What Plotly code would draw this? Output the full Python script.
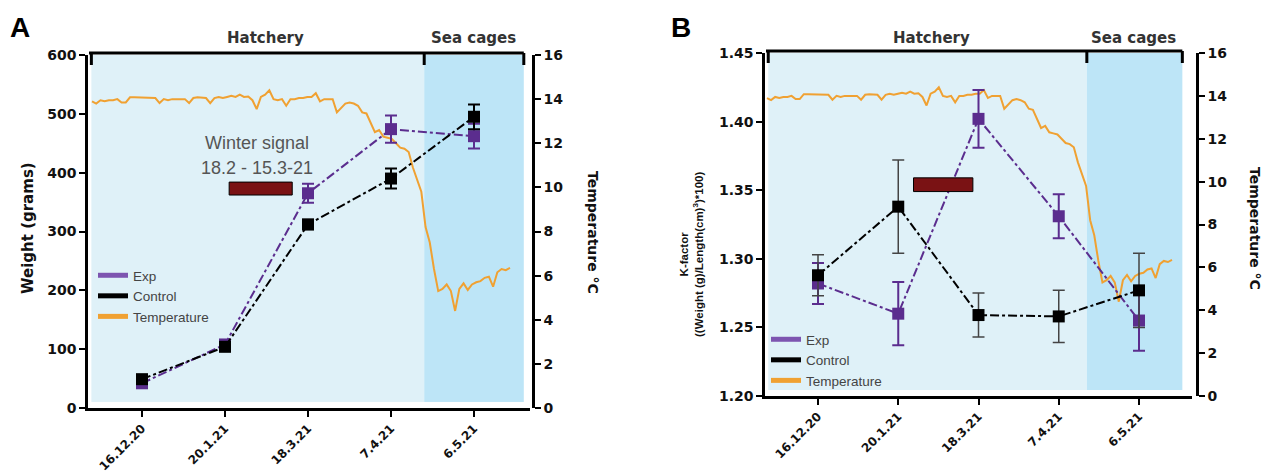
import plotly.graph_objects as go

# ---------------- data ----------------
dates = ["16.12.20", "20.1.21", "18.3.21", "7.4.21", "6.5.21"]

weight_exp = [42, 108, 365, 474, 462]
weight_exp_err = [6, 6, 16, 23, 21]
weight_ctrl = [49, 104, 312, 390, 495]
weight_ctrl_err = [5, 5, 8, 17, 21]

k_exp = [1.282, 1.260, 1.402, 1.331, 1.255]
k_exp_err = [0.015, 0.023, 0.021, 0.016, 0.022]
k_ctrl = [1.288, 1.338, 1.259, 1.258, 1.277]
k_ctrl_err = [0.015, 0.034, 0.016, 0.019, 0.027]

temperature = [
    13.90, 13.80, 13.95, 13.90, 13.95, 13.95, 14.00, 13.85, 13.85, 14.08,
    14.08, 14.08, 14.08, 14.08, 14.08, 14.05, 13.82, 14.00, 13.95, 14.00,
    14.00, 14.00, 14.00, 13.82, 14.05, 14.08, 14.08, 14.05, 13.82, 14.05,
    14.10, 14.05, 14.10, 14.15, 14.10, 14.20, 14.10, 14.12, 13.95, 13.55,
    14.10, 14.20, 14.40, 14.00, 13.95, 14.00, 13.70, 14.00, 14.00, 14.05,
    14.05, 14.10, 14.10, 14.27, 13.90, 14.00, 14.00, 14.00, 13.40, 13.60,
    13.80, 13.85, 13.80, 13.70, 13.40, 13.35, 12.90, 12.50, 12.60, 12.30,
    12.25, 12.20, 12.00, 11.80, 11.75, 11.60, 10.90, 10.30, 9.80, 8.20,
    7.50, 6.30, 5.30, 5.40, 5.60, 5.30, 4.40, 5.40, 5.65, 5.35,
    5.60, 5.70, 5.75, 5.90, 5.95, 5.50, 6.15, 6.30, 6.25, 6.35,
]

weight_ticks = [0, 100, 200, 300, 400, 500, 600]
k_ticks = [1.20, 1.25, 1.30, 1.35, 1.40, 1.45]
temp_ticks = [0, 2, 4, 6, 8, 10, 12, 14, 16]
legend_names = ["Exp", "Control", "Temperature"]
winter_text = ["Winter signal", "18.2 - 15.3-21"]

# ---------------- styling / layout helpers ----------------
W, H = 1265, 475
PURPLE = "#5b2d8e"
PURPLE_LEG = "#7d55b0"
ORANGE = "#f0a132"
BLACK = "#000000"
HATCH_BG = "#dff1f8"
SEA_BG = "#bde5f7"
BAR_RED = "#7a1214"
TICKFONT = dict(family="DejaVu Sans", size=14, color="#111111", weight="bold")
XTICKFONT = dict(family="DejaVu Sans", size=12, color="#111111", weight="bold")


def fx(p):
    return p / W


def fy(p):
    return 1 - p / H


panels = {
    "A": dict(x0=88, x1=530, ytop=55, ybot=408, yright=533, tick0=142, tick4=474,
              t0=92, t1=510, hatch0=-0.61, bound=3.40, sea1=4.60,
              ax=("x", "y", "x2", "y2"), yrange=[0, 600], yticks=weight_ticks,
              shade_bottom=10, bar=(1.05, 1.81, 362, 384), legend="legend"),
    "B": dict(x0=765, x1=1192, ytop=53, ybot=396, yright=1197, tick0=818, tick4=1139,
              t0=767, t1=1172, hatch0=-0.62, bound=3.35, sea1=4.54,
              ax=("x3", "y3", "x4", "y4"), yrange=[1.20, 1.45], yticks=k_ticks,
              shade_bottom=1.2044, bar=(1.19, 1.93, 1.349, 1.359), legend="legend2"),
}

fig = go.Figure()
layout = dict(
    width=W, height=H, margin=dict(l=0, r=0, t=0, b=0, pad=0, autoexpand=False),
    paper_bgcolor="white", plot_bgcolor="white", showlegend=True,
    font=dict(family="Liberation Sans", color="#222"),
)
shapes = []
annotations = []

series = {
    "A": (weight_exp, weight_exp_err, weight_ctrl, weight_ctrl_err),
    "B": (k_exp, k_exp_err, k_ctrl, k_ctrl_err),
}

for key, p in panels.items():
    xt, yt, xc, yc = p["ax"]
    n = len(temperature) - 1
    sp_t = (p["t1"] - p["t0"]) / n
    trange = [-(p["t0"] - p["x0"]) / sp_t, n + (p["x1"] - p["t1"]) / sp_t]
    sp_c = (p["tick4"] - p["tick0"]) / (len(dates) - 1)
    crange = [-(p["tick0"] - p["x0"]) / sp_c, (len(dates) - 1) + (p["x1"] - p["tick4"]) / sp_c]
    dom_x = [fx(p["x0"]), fx(p["x1"])]
    dom_y = [fy(p["ybot"]), fy(p["ytop"])]

    xt_name = "xaxis" + xt[1:]
    yt_name = "yaxis" + yt[1:]
    xc_name = "xaxis" + xc[1:]
    yc_name = "yaxis" + yc[1:]

    layout[xt_name] = dict(domain=dom_x, range=trange, visible=False, anchor=yt,
                           fixedrange=True, automargin=False)
    layout[yt_name] = dict(domain=dom_y, range=[0, 16], side="right", anchor="free",
                           position=fx(p["yright"]), showline=True, linecolor=BLACK, linewidth=2.5,
                           ticks="outside", ticklen=6, tickwidth=2, tickcolor=BLACK,
                           tickvals=temp_ticks, tickfont=TICKFONT, showgrid=False, zeroline=False,
                           automargin=False)
    layout[xc_name] = dict(overlaying=xt, anchor=yc, type="category", range=crange,
                           showline=True, linecolor=BLACK, linewidth=2.5, ticks="outside",
                           ticklen=6, tickwidth=2, tickcolor=BLACK, tickangle=-45,
                           tickfont=XTICKFONT, showgrid=False, zeroline=False, automargin=False)
    layout[yc_name] = dict(overlaying=yt, anchor=xc, side="left", range=p["yrange"],
                           tickvals=p["yticks"], showline=True, linecolor=BLACK, linewidth=2.5,
                           ticks="outside", ticklen=6, tickwidth=2, tickcolor=BLACK,
                           tickfont=TICKFONT, showgrid=False, zeroline=False,
                           tickformat=".2f" if key == "B" else "d", automargin=False)

    # background regions
    shapes.append(dict(type="rect", xref=xc, yref=yc, x0=p["hatch0"], x1=p["bound"],
                       y0=p["shade_bottom"], y1=p["yrange"][1], fillcolor=HATCH_BG,
                       line=dict(width=0), layer="below"))
    shapes.append(dict(type="rect", xref=xc, yref=yc, x0=p["bound"], x1=p["sea1"],
                       y0=p["shade_bottom"], y1=p["yrange"][1], fillcolor=SEA_BG,
                       line=dict(width=0), layer="below"))
    # top bracket
    top = fy(p["ytop"] - 2)
    tick_bottom = fy(p["ytop"] + 10)
    shapes.append(dict(type="line", xref="paper", yref="paper", x0=fx(p["x0"] + 1),
                       x1=fx(p["x0"]) + (dom_x[1] - dom_x[0]) * (p["sea1"] - crange[0]) / (crange[1] - crange[0]),
                       y0=top, y1=top, line=dict(color=BLACK, width=3)))
    for xv in (p["hatch0"], p["bound"], p["sea1"]):
        shapes.append(dict(type="line", xref=xc, yref="paper", x0=xv, x1=xv,
                           y0=top, y1=tick_bottom, line=dict(color=BLACK, width=3)))
    # winter signal bar
    bx0, bx1, by0, by1 = p["bar"]
    shapes.append(dict(type="rect", xref=xc, yref=yc, x0=bx0, x1=bx1, y0=by0, y1=by1,
                       fillcolor=BAR_RED, line=dict(color=BLACK, width=1)))

    # temperature
    fig.add_trace(go.Scatter(x=list(range(len(temperature))), y=temperature, mode="lines",
                             line=dict(color=ORANGE, width=2), xaxis=xt, yaxis=yt,
                             showlegend=False, hoverinfo="skip"))
    e, ee, c, ce = series[key]
    ctrl_err_color = BLACK if key == "A" else "#444444"
    ctrl_err_th = 2 if key == "A" else 1.5
    fig.add_trace(go.Scatter(x=dates, y=e, mode="lines+markers", xaxis=xc, yaxis=yc,
                             line=dict(color=PURPLE, width=2, dash="dashdot"),
                             marker=dict(symbol="square", size=12, color=PURPLE),
                             error_y=dict(type="data", array=ee, color=PURPLE, thickness=2, width=6),
                             showlegend=False))
    fig.add_trace(go.Scatter(x=dates, y=c, mode="lines+markers", xaxis=xc, yaxis=yc,
                             line=dict(color=BLACK, width=2, dash="dashdot"),
                             marker=dict(symbol="square", size=12, color=BLACK),
                             error_y=dict(type="data", array=ce, color=ctrl_err_color,
                                          thickness=ctrl_err_th, width=6),
                             showlegend=False))
    # legend entries
    for name, col in zip(legend_names, [PURPLE_LEG, BLACK, ORANGE]):
        fig.add_trace(go.Scatter(x=[None], y=[None], mode="lines", name=name,
                                 line=dict(color=col, width=5), xaxis=xc, yaxis=yc,
                                 legend=p["legend"]))

layout["legend"] = dict(x=fx(93), y=fy(260), xanchor="left", yanchor="top",
                        bgcolor="rgba(0,0,0,0)", font=dict(family="Liberation Sans", size=13.5, color="#444"),
                        itemwidth=30, tracegroupgap=0)
layout["legend2"] = dict(x=fx(766), y=fy(324), xanchor="left", yanchor="top",
                         bgcolor="rgba(0,0,0,0)", font=dict(family="Liberation Sans", size=13.5, color="#444"),
                         itemwidth=30, tracegroupgap=0)

def ann(text, x, y, size, family="Liberation Sans", color="#111", weight="normal", angle=0):
    annotations.append(dict(text=text, x=fx(x), y=fy(y), xref="paper", yref="paper",
                            showarrow=False, xanchor="center", yanchor="middle", textangle=angle,
                            font=dict(family=family, size=size, color=color, weight=weight)))

ann("A", 20, 27, 28, weight="bold", color="#000")
ann("B", 681, 27, 28, weight="bold", color="#000")
ann("Hatchery", 265, 38, 15, family="DejaVu Sans", weight="bold", color="#333")
ann("Sea cages", 473, 38, 15, family="DejaVu Sans", weight="bold", color="#333")
ann("Hatchery", 931, 38, 15, family="DejaVu Sans", weight="bold", color="#333")
ann("Sea cages", 1133, 38, 15, family="DejaVu Sans", weight="bold", color="#333")
ann(winter_text[0], 257, 143, 18, color="#555")
ann(winter_text[1], 257, 168, 18, color="#555")
ann("Weight (grams)", 28, 228, 15, family="DejaVu Sans", weight="bold", angle=-90)
ann("Temperature °C", 593, 232, 14, family="DejaVu Sans", weight="bold", angle=90)
ann("Temperature °C", 1255, 228, 14, family="DejaVu Sans", weight="bold", angle=90)
ann("K-factor<br>((Weight (g)/Length(cm)<sup>3</sup>)*100)", 691, 255, 11.5, weight="bold", angle=-90)

layout["shapes"] = shapes
layout["annotations"] = annotations
fig.update_layout(**layout)
fig.write_html("out.html")
